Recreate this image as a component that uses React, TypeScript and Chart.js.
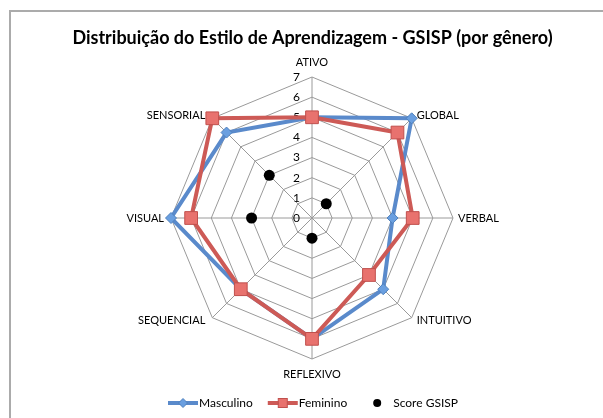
import React, { useEffect, useRef } from 'react';
import { Chart, registerables } from 'chart.js';

Chart.register(...registerables);

const chartTitle = 'Distribuição do Estilo de Aprendizagem - GSISP (por gênero)';
const categories = ['ATIVO', 'GLOBAL', 'VERBAL', 'INTUITIVO', 'REFLEXIVO', 'SEQUENCIAL', 'VISUAL', 'SENSORIAL'];
const masculino = [5, 7, 4, 5, 6, 5, 7, 6];
const feminino = [5, 6, 5, 4, 6, 5, 6, 7];
const scoreGSISP = [null, 1, null, null, 1, null, 3, 3];
const tickValues = [0, 1, 2, 3, 4, 5, 6, 7];
const seriesNames = ['Masculino', 'Feminino', 'Score GSISP'];

const BLUE_LINE = '#5A8ACB';
const BLUE_FILL = '#6A9FE0';
const BLUE_BORDER = '#4F81BD';
const RED_LINE = '#CD5A56';
const RED_FILL = '#E8726E';
const RED_BORDER = '#C0504D';
const FONT = 'Lato, "Open Sans", sans-serif';

function drawDiamond(ctx: CanvasRenderingContext2D, x: number, y: number, r: number) {
  ctx.beginPath();
  ctx.moveTo(x, y - r);
  ctx.lineTo(x + r, y);
  ctx.lineTo(x, y + r);
  ctx.lineTo(x - r, y);
  ctx.closePath();
}

const excelPlugin = {
  id: 'excelLabels',
  beforeDatasetsDraw(chart: any) {
    const r = chart.scales.r;
    const ctx: CanvasRenderingContext2D = chart.ctx;
    ctx.save();
    ctx.fillStyle = '#000';
    ctx.font = `12px ${FONT}`;
    ctx.textAlign = 'right';
    ctx.textBaseline = 'middle';
    tickValues.forEach((v) => {
      const d = r.getDistanceFromCenterForValue(v);
      ctx.fillText(String(v), r.xCenter - 12, r.yCenter - d);
    });
    ctx.font = `11px ${FONT}`;
    categories.forEach((c, i) => {
      const p = r.getPointPosition(i, r.drawingArea);
      const cos = Math.cos(p.angle);
      const sin = Math.sin(p.angle);
      let x = p.x;
      let y = p.y;
      let align: CanvasTextAlign = 'center';
      if (Math.abs(cos) < 0.1) {
        y += sin < 0 ? -15 : 15;
      } else {
        align = cos > 0 ? 'left' : 'right';
        x += cos > 0 ? 5 : -7;
        y += sin * 4.5;
      }
      ctx.textAlign = align;
      ctx.fillText(c, x, y);
    });
    ctx.restore();
  },
  afterDraw(chart: any) {
    const r = chart.scales.r;
    const ctx: CanvasRenderingContext2D = chart.ctx;
    ctx.save();
    ctx.font = `12px ${FONT}`;
    ctx.textBaseline = 'middle';
    ctx.textAlign = 'left';
    const symW = 30;
    const gap = 15;
    const widths = seriesNames.map((n) => symW + 1 + ctx.measureText(n).width);
    const total = widths.reduce((a, b) => a + b, 0) + gap * (seriesNames.length - 1);
    let x = r.xCenter + 1 - total / 2;
    const y = chart.height - 15;
    seriesNames.forEach((name, i) => {
      const cx = x + symW / 2;
      if (i === 0) {
        ctx.strokeStyle = BLUE_LINE;
        ctx.lineWidth = 4;
        ctx.beginPath();
        ctx.moveTo(x, y);
        ctx.lineTo(x + symW, y);
        ctx.stroke();
        drawDiamond(ctx, cx, y, 4.5);
        ctx.fillStyle = BLUE_FILL;
        ctx.fill();
        ctx.lineWidth = 1;
        ctx.strokeStyle = BLUE_BORDER;
        ctx.stroke();
      } else if (i === 1) {
        ctx.strokeStyle = RED_LINE;
        ctx.lineWidth = 4;
        ctx.beginPath();
        ctx.moveTo(x, y);
        ctx.lineTo(x + symW, y);
        ctx.stroke();
        ctx.fillStyle = RED_FILL;
        ctx.fillRect(cx - 4.5, y - 4.5, 9, 9);
        ctx.lineWidth = 1;
        ctx.strokeStyle = RED_BORDER;
        ctx.strokeRect(cx - 4.5, y - 4.5, 9, 9);
      } else {
        ctx.fillStyle = '#000';
        ctx.beginPath();
        ctx.arc(cx, y, 4, 0, Math.PI * 2);
        ctx.fill();
      }
      ctx.fillStyle = '#000';
      ctx.fillText(name, x + symW + 1, y);
      x += widths[i] + gap;
    });
    ctx.restore();
  },
};

export default function App() {
  const canvasRef = useRef<HTMLCanvasElement | null>(null);

  useEffect(() => {
    if (!canvasRef.current) return;
    const chart = new Chart(canvasRef.current, {
      type: 'radar',
      data: {
        labels: categories,
        datasets: [
          {
            label: seriesNames[0],
            data: masculino,
            borderColor: BLUE_LINE,
            borderWidth: 4,
            backgroundColor: BLUE_FILL,
            fill: false,
            pointStyle: 'rectRot',
            pointRadius: 5.5,
            pointBackgroundColor: BLUE_FILL,
            pointBorderColor: BLUE_BORDER,
            pointBorderWidth: 1,
            order: 3,
          },
          {
            label: seriesNames[1],
            data: feminino,
            borderColor: RED_LINE,
            borderWidth: 4,
            backgroundColor: RED_FILL,
            fill: false,
            pointStyle: 'rect',
            pointRadius: 9,
            pointBackgroundColor: RED_FILL,
            pointBorderColor: RED_BORDER,
            pointBorderWidth: 1,
            order: 2,
          },
          {
            label: seriesNames[2],
            data: scoreGSISP,
            showLine: false,
            fill: false,
            borderColor: '#000',
            backgroundColor: '#000',
            pointStyle: 'circle',
            pointRadius: 5.5,
            pointBackgroundColor: '#000',
            pointBorderColor: '#000',
            pointBorderWidth: 0,
            order: 1,
          },
        ],
      },
      options: {
        responsive: false,
        animation: false,
        devicePixelRatio: 1,
        layout: { padding: { left: 30, right: 8, top: 27, bottom: 58 } },
        elements: { line: { tension: 0 } },
        plugins: {
          legend: { display: false },
          tooltip: { enabled: false },
          title: {
            display: true,
            text: chartTitle,
            color: '#000',
            font: { family: FONT, size: 18, weight: 'bold', lineHeight: 1.2 },
            padding: { top: 0, bottom: 28.4 },
          },
        },
        scales: {
          r: {
            min: 0,
            max: 7,
            ticks: { stepSize: 1, display: false },
            pointLabels: { display: false },
            grid: { color: '#9a9a9a', lineWidth: 1 },
            angleLines: { color: '#9a9a9a', lineWidth: 1 },
          },
        },
      },
      plugins: [excelPlugin],
    });
    return () => chart.destroy();
  }, []);

  return (
    <div style={{ position: 'absolute', left: 0, top: 0, width: 603, height: 418, background: '#fff', overflow: 'hidden' }}>
      <div
        style={{
          position: 'absolute',
          left: 9,
          top: 10,
          width: 640,
          height: 460,
          border: '2px solid #ababab',
          boxSizing: 'border-box',
        }}
      />
      <canvas ref={canvasRef} width={603} height={418} style={{ position: 'absolute', left: 0, top: 0, width: 603, height: 418 }} />
    </div>
  );
}
